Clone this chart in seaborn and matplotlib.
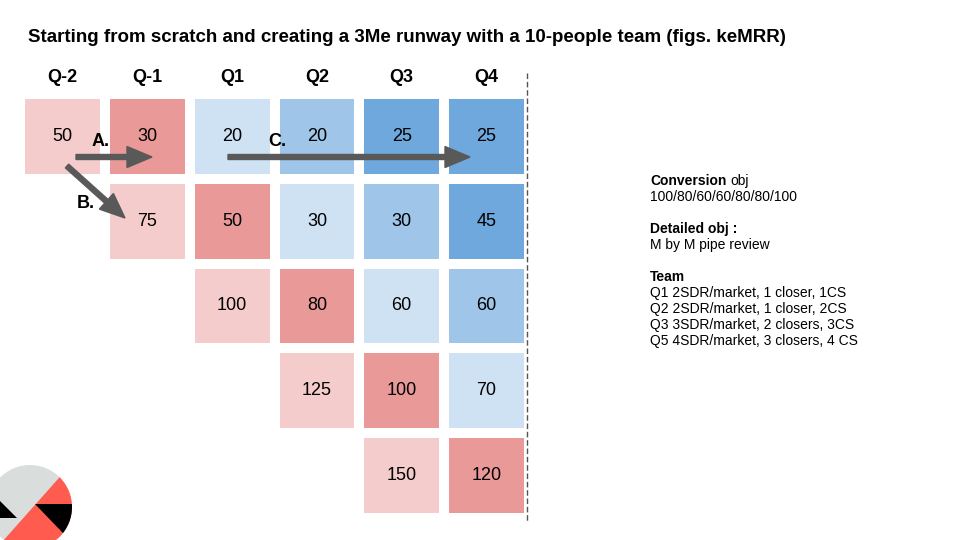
import numpy as np
import pandas as pd
import matplotlib
matplotlib.use("Agg")
import matplotlib.pyplot as plt
from matplotlib.colors import ListedColormap
from matplotlib.patches import Circle, Polygon, FancyArrow
import seaborn as sns

# data
quarters = ["Q-2", "Q-1", "Q1", "Q2", "Q3", "Q4"]
cohort_start = [0, 1, 2, 3, 4]
cohort_values = [
    [50, 30, 20, 20, 25, 25],
    [75, 50, 30, 30, 45],
    [100, 80, 60, 60],
    [125, 100, 70],
    [150, 120],
]
age_colors = ["#f4cccc", "#ea9999", "#cfe2f3", "#9fc5e8", "#6fa8dc"]

title = "Starting from scratch and creating a 3Me runway with a 10-people team (figs. keMRR)"
notes = [
    ("Conversion", "obj", 181),
    ("", "100/80/60/60/80/80/100", 197),
    ("Detailed obj :", "", 229),
    ("", "M by M pipe review", 245),
    ("Team", "", 277),
    ("", "Q1 2SDR/market, 1 closer, 1CS", 293),
    ("", "Q2 2SDR/market, 1 closer, 2CS", 309),
    ("", "Q3 3SDR/market, 2 closers, 3CS", 325),
    ("", "Q5 4SDR/market, 3 closers, 4 CS", 341),
]

# build matrices
vals = np.full((len(cohort_values), len(quarters)), np.nan)
age = np.full_like(vals, np.nan)
for i, (s, row) in enumerate(zip(cohort_start, cohort_values)):
    for k, v in enumerate(row):
        vals[i, s + k] = v
        age[i, s + k] = min(k, len(age_colors) - 1)
vals_df = pd.DataFrame(vals, columns=quarters)
age_df = pd.DataFrame(age, columns=quarters)

sns.set_theme(style="white")
plt.rcParams['font.family'] = ['Liberation Sans', 'DejaVu Sans']
plt.rcParams['text.color'] = 'black'

W, H = 960, 540
fig = plt.figure(figsize=(W / 100, H / 100), dpi=100)
ax = fig.add_axes([20 / W, 1 - 518 / H, 509 / W, 424 / H])
sns.heatmap(age_df, mask=np.isnan(age_df), cmap=ListedColormap(age_colors),
            vmin=-0.5, vmax=4.5, annot=vals_df, fmt=".0f",
            annot_kws=dict(fontsize=13, color="black"),
            linewidths=5.8, linecolor="white", cbar=False, ax=ax,
            xticklabels=quarters, yticklabels=False)
ax.xaxis.tick_top()
ax.tick_params(axis="x", length=0, pad=6)
for t in ax.get_xticklabels():
    t.set_fontsize(13)
    t.set_fontweight("bold")
    t.set_color("black")
ax.set_xlabel("")
ax.set_ylabel("")

# overlay in pixel coordinates
ov = fig.add_axes([0, 0, 1, 1])
ov.set_xlim(0, W)
ov.set_ylim(H, 0)
ov.set_axis_off()

ov.text(28, 38, title, fontsize=13.5, fontweight="bold", va="center", ha="left")

# dashed separator
ov.plot([527, 527], [73, 523], color="#555555", lw=1, ls=(0, (4, 2)))

# arrows
arrow_kw = dict(width=5, head_width=21, head_length=25,
                length_includes_head=True, color="#595959", zorder=5)
ov.add_patch(FancyArrow(76, 157, 152 - 76, 0, **arrow_kw))
ov.add_patch(FancyArrow(67, 166, 125 - 67, 218 - 166, **arrow_kw))
ov.add_patch(FancyArrow(228, 157, 470 - 228, 0, **arrow_kw))
for lab, x, y in [("A.", 101, 142), ("B.", 86, 203), ("C.", 277, 142)]:
    ov.text(x, y, lab, fontsize=13, fontweight="bold", ha="center", va="center", zorder=6)

# notes
fig.canvas.draw()
r = fig.canvas.get_renderer()
for b, n, y in notes:
    x = 650
    if b:
        t = ov.text(x, y, b, fontsize=10, fontweight="bold", va="center", ha="left")
        x = 650 + t.get_window_extent(r).width + 4
    if n:
        ov.text(x, y, n, fontsize=10, va="center", ha="left")

# logo
circ = Circle((30, 507), 42, transform=ov.transData)
ov.add_patch(Circle((30, 507), 42, color="#d9dedc", lw=0))
for pts, c in [([(90, 443), (-14, 560), (110, 560), (110, 443)], "#ff5b4f"),
               ([(35, 504), (110, 504), (110, 582)], "black"),
               ([(-20, 481), (17, 518), (-20, 518)], "black")]:
    p = Polygon(pts, closed=True, color=c, lw=0)
    ov.add_patch(p)
    p.set_clip_path(circ)

fig.savefig("out.png", dpi=100)
